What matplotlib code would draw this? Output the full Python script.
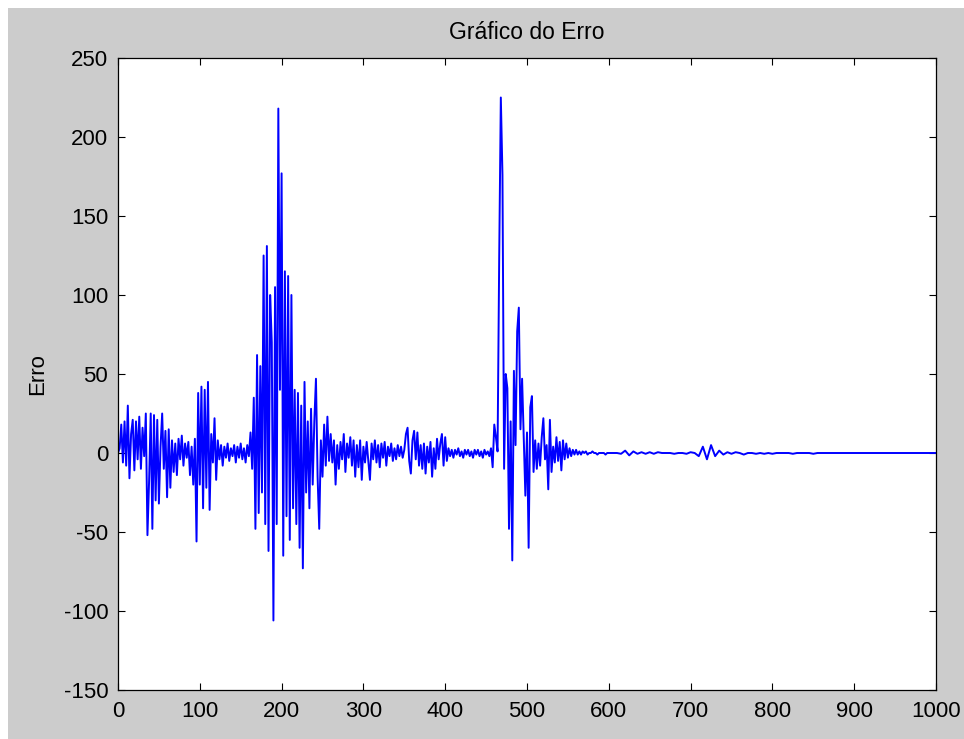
import numpy as np
import matplotlib.pyplot as plt
from matplotlib.patches import Rectangle

plt.rcParams['font.family'] = ['Liberation Sans', 'DejaVu Sans']
plt.rcParams['axes.unicode_minus'] = False

# erro amostrado a cada 2 iteracoes (0 a 598)
erro_inicio = [
    0, 3, 18, -6, 20, -8, 30, -16, 12, 21,
    -11, 20, -4, 23, -10, 16, -2, 25, -52, -18,
    25, -48, 24, -30, 21, -32, 4, 25, -10, 14,
    -28, 15, -22, 8, -12, 6, -14, 9, -4, 11,
    -8, 6, -3, 7, -14, 4, -20, 9, -56, 38,
    -20, 42, -35, 40, -22, 45, -36, 12, -6, 22,
    -17, 8, -4, 5, -8, 4, -3, 6, -5, 3,
    -2, 5, -6, 4, -3, 6, -4, 3, -6, 5,
    -2, 13, -10, 35, -48, 62, -38, 55, -25, 125,
    -45, 131, -62, 100, 70, -106, 105, -45, 218, 40,
    177, -65, 115, -40, 112, -55, 100, -35, 40, -45,
    38, -60, 30, -73, 45, -25, 20, -35, 28, -20,
    20, 47, -15, -48, 8, -15, 18, -8, 23, -5,
    12, -6, 8, -20, 5, -10, 7, -4, 12, -12,
    6, -3, 10, -8, 8, -15, 5, -9, 8, -17,
    4, -6, 7, -5, -17, 6, -4, 8, -6, 5,
    -9, 6, -3, 7, -8, 4, -2, 6, -5, 3,
    -4, 5, -2, 4, -3, 2, 12, 16, -5, -13,
    8, 14, -4, 13, -8, 5, -10, 6, -13, 4,
    -6, 7, -15, 3, -10, 9, -4, 6, 12, -8,
    10, -5, 3, -2, 2, -3, 2, -1, 3, -2,
    1, -3, 2, -1, 2, -2, 1, -3, 2, -1,
    2, -2, 1, -3, 2, -1, 1, -2, 3, -9,
    18, 10, 1, 123, 225, 176, -10, 50, 41, -48,
    20, -68, 52, 5, 77, 92, 15, 47, 10, -27,
    13, -60, 29, 36, -12, 8, -10, 6, -8, 10,
    22, -4, 5, -23, 21, -12, 4, -6, 10, -5,
    7, -11, 8, -4, 6, -3, 3, -2, 2, -1,
    2, -1, 1, -1, 1, 0, 1, -1, 0, 0,
    1, 0, 0, -1, 0, 0, 0, 0, -1, 0,
]

# final do treino, amostrado a cada 5 iteracoes (600 a 1000)
erro_final = [
    0, 0, 0, -0.5, 1.5, -1.5, 1, -0.5, 0.5, -0.5,
    0.5, -0.5, 0.5, 0, 0, 0, -0.5, 0, 0, -0.5,
    0.5, 0, -2, 4, -4, 5, -2, 1.5, -1, 0.5,
    -0.5, 0.5, 0, -1, 0, 0, -0.5, 0, -0.5, 0,
    -0.5, 0, 0, 0, 0, -0.5, 0, 0, 0, 0,
    -0.5, 0, 0, 0, 0, 0, 0, 0, 0, 0,
    0, 0, 0, 0, 0, 0, 0, 0, 0, 0,
    0, 0, 0, 0, 0, 0, 0, 0, 0, 0,
    0,
]

iteracoes = np.concatenate([np.arange(0, 600, 2), np.arange(600, 1001, 5)])
erro = np.array(erro_inicio + erro_final, dtype=float)

fig = plt.figure(figsize=(9.64, 7.39), dpi=100, facecolor='white')
fig.patches.append(Rectangle((8 / 964, 0), 1, 1 - 8 / 739, transform=fig.transFigure,
                             facecolor='#cccccc', edgecolor='none', zorder=-1))

ax = fig.add_axes([118 / 964, 1 - 690 / 739, 818 / 964, 632 / 739])
ax.plot(iteracoes, erro, color='#0000ff', lw=1.4)

ax.set_xlim(0, 1000)
ax.set_ylim(-150, 250)
ax.set_xticks(np.arange(0, 1001, 100))
ax.set_yticks(np.arange(-150, 251, 50))
ax.tick_params(direction='in', length=5, width=0.8, top=True, right=True,
               labelsize=16, colors='black')
ax.tick_params(axis='x', pad=8)
ax.tick_params(axis='y', pad=7)
for s in ax.spines.values():
    s.set_linewidth(0.9)

ax.set_title('Gráfico do Erro', fontsize=16.5, pad=14)
ax.set_ylabel('Erro', fontsize=16)
ax.yaxis.set_label_coords(-0.085, 0.5)

fig.savefig('out.png', dpi=100, facecolor=fig.get_facecolor())
